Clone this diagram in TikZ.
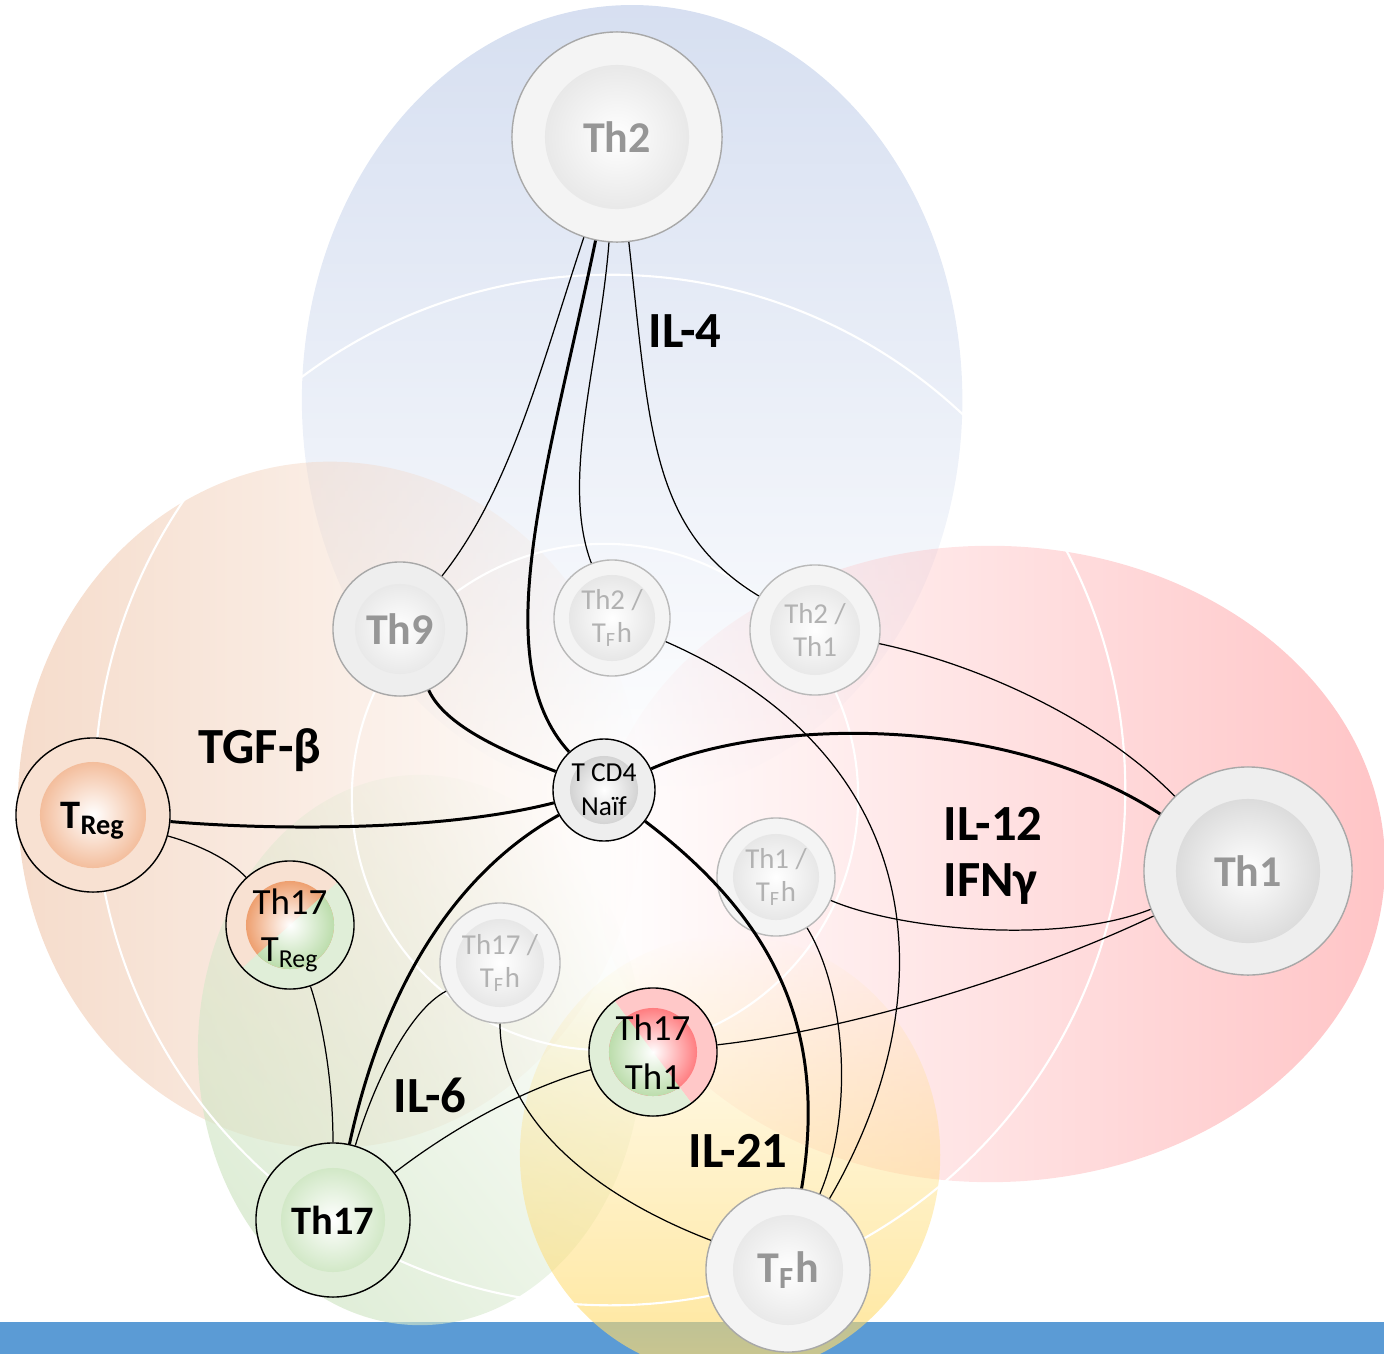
\documentclass[tikz,border=0pt]{standalone}
\usepackage{fontspec}
\setmainfont{Carlito}
\usepackage{tikz}
\usetikzlibrary{fadings}

\definecolor{skyblue}{RGB}{204,215,237}
\definecolor{peach}{RGB}{243,211,190}
\definecolor{rose}{RGB}{255,182,184}
\definecolor{sage}{RGB}{212,231,201}
\definecolor{gold}{RGB}{255,219,110}
\definecolor{barblue}{RGB}{91,155,213}
\definecolor{ringgrey}{RGB}{244,244,244}
\definecolor{ringdark}{RGB}{238,238,238}
\definecolor{rimgrey}{RGB}{168,168,168}
\definecolor{coregrey}{RGB}{222,222,222}
\definecolor{txtgrey}{RGB}{150,150,150}
\definecolor{paletxt}{RGB}{178,178,178}
\definecolor{tregring}{RGB}{248,225,210}
\definecolor{tregcore}{RGB}{238,160,112}
\definecolor{thring}{RGB}{224,238,216}
\definecolor{thcore}{RGB}{188,221,172}
\definecolor{th1ring}{RGB}{255,200,200}
\definecolor{th1core}{RGB}{255,125,128}

\tikzfading[name=fadedown, top color=transparent!0, bottom color=transparent!100]
\tikzfading[name=fadeup, top color=transparent!100, bottom color=transparent!0]
\tikzfading[name=faderight, left color=transparent!0, right color=transparent!100]
\tikzfading[name=fadeleft, left color=transparent!100, right color=transparent!0]

\begin{document}
\begin{tikzpicture}[x=0.01cm, y=-0.01cm,
  every node/.style={circle, draw, inner sep=0pt, align=center},
  cell/.style={fill=ringgrey, draw=rimgrey, text=txtgrey, font=\bfseries\fontsize{12.5}{14}\selectfont},
  pale/.style={fill=ringgrey, draw=rimgrey!80, text=paletxt, font=\fontsize{8.2}{9.4}\selectfont},
  core/.style 2 args={path picture={\shade[inner color=white, outer color=#2] (path picture bounding box.center) circle (#1);}},
  halves/.style n args={5}{path picture={
    \fill[#2] (path picture bounding box.center) ++(#1:1cm) arc[start angle=#1, end angle=#1+180, radius=1cm] -- cycle;
    \fill[#3] (path picture bounding box.center) ++(#1:1cm) arc[start angle=#1, end angle=#1-180, radius=1cm] -- cycle;
    \shade[inner color=white, outer color=#4] (path picture bounding box.center) circle (0.44cm);
    \begin{scope}
      \clip (path picture bounding box.center) ++(#1:1cm) arc[start angle=#1, end angle=#1-180, radius=1cm] -- cycle;
      \shade[inner color=white, outer color=#5] (path picture bounding box.center) circle (0.44cm);
    \end{scope}}},
  cytokine/.style={draw=none, shape=rectangle, font=\bfseries\fontsize{14.4}{16}\selectfont},
  link/.style={line width=0.35pt},
  main/.style={line width=0.85pt},
  ring/.style={white, line width=0.6pt}]

\clip (0,0) rectangle (1384,1354);
\fill[barblue] (0,1322) rectangle (1384,1354);

\fill[skyblue, fill opacity=0.8, path fading=fadedown] (632,400) ellipse [x radius=3.3cm, y radius=3.95cm];
\fill[peach, fill opacity=0.8, path fading=faderight] (330,805) ellipse [x radius=3.12cm, y radius=3.43cm];
\fill[rose, fill opacity=0.8, path fading=fadeleft] (990,864) ellipse [x radius=3.95cm, y radius=3.18cm];
\fill[sage, fill opacity=0.75, path fading=fadeup, fading angle=-45] (420,1050) ellipse [x radius=2.22cm, y radius=2.75cm];
\fill[gold, fill opacity=0.7, path fading=fadeup] (730,1155) ellipse [x radius=2.1cm, y radius=2.2cm];

\draw[ring] (605,797) circle [radius=2.53cm];
\draw[ring] (610,790) circle [radius=5.15cm];

\node[cell, core={0.72cm}{coregrey}, minimum size=2.1cm] (th2) at (617,137) {Th2};
\node[cell, fill=ringdark, core={0.72cm}{coregrey!92!black}, minimum size=2.08cm] (th1) at (1248,871) {Th1};
\node[cell, fill=ringdark, core={0.45cm}{coregrey}, minimum size=1.34cm] (th9) at (400,629) {Th9};
\node[cell, core={0.55cm}{coregrey}, minimum size=1.64cm] (tfh) at (788,1270) {T\textsubscript{F}h};
\node[pale, core={0.43cm}{coregrey}, minimum size=1.16cm] (th2tfh) at (612,618) {Th2 /\\T\textsubscript{F}h};
\node[pale, core={0.45cm}{coregrey}, minimum size=1.3cm] (th2th1) at (815,630) {Th2 /\\Th1};
\node[pale, core={0.43cm}{coregrey}, minimum size=1.18cm] (th1tfh) at (776,877) {Th1 /\\T\textsubscript{F}h};
\node[pale, core={0.44cm}{coregrey}, minimum size=1.2cm] (th17tfh) at (500,963) {Th17 /\\T\textsubscript{F}h};
\node[fill=ringdark, core={0.34cm}{coregrey!85!black}, minimum size=1.02cm, font=\fontsize{7.8}{9.6}\selectfont] (naif) at (604,790) {T CD4\\Naïf};
\node[fill=tregring, core={0.53cm}{tregcore}, minimum size=1.54cm, text depth=0pt, font=\bfseries\fontsize{11.5}{13}\selectfont] (treg) at (93,815) {T\textsubscript{Reg}};
\node[fill=thring, core={0.52cm}{thcore}, minimum size=1.54cm, font=\bfseries\fontsize{11.5}{13}\selectfont] (th17) at (333,1220) {Th17};
\node[halves={42}{tregring}{thring}{tregcore}{thcore}, minimum size=1.28cm, text depth=0pt, font=\fontsize{10.5}{13.5}\selectfont] (th17treg) at (290,925) {Th17\\T\textsubscript{Reg}};
\node[halves={-53}{th1ring}{thring}{th1core}{thcore}, minimum size=1.28cm, font=\fontsize{10.5}{14}\selectfont] (th17th1) at (653,1052) {Th17\\Th1};

\node[cytokine] (il4) at (685,331) {IL-4};
\node[cytokine] (tgf) at (260,750) {TGF-β};
\node[cytokine, align=left] (il12) at (993,856) {IL-12\\IFNγ};
\node[cytokine] (il6) at (430,1095) {IL-6};
\node[cytokine] (il21) at (738,1151) {IL-21};

\draw[link] (th2) .. controls (540,370) and (510,490) .. (th9);
\draw[main] (th2) .. controls (548,470) and (485,660) .. (naif);
\draw[link] (th2) .. controls (600,360) and (560,480) .. (th2tfh);
\draw[link] (th2) .. controls (650,430) and (650,530) .. (th2th1);
\draw[main] (naif) .. controls (500,750) and (445,725) .. (th9);
\draw[main] (naif) .. controls (440,832) and (270,830) .. (treg);
\draw[main] (naif) .. controls (760,720) and (1000,710) .. (th1);
\draw[main] (naif) .. controls (460,870) and (385,980) .. (th17);
\draw[main] (naif) .. controls (775,920) and (828,1030) .. (tfh);
\draw[link] (treg) .. controls (200,845) and (230,860) .. (th17treg);
\draw[link] (th17treg) .. controls (325,1030) and (333,1090) .. (th17);
\draw[link] (th17tfh) .. controls (410,1010) and (375,1080) .. (th17);
\draw[link] (th17tfh) .. controls (500,1110) and (580,1190) .. (tfh);
\draw[link] (th17th1) .. controls (520,1090) and (450,1130) .. (th17);
\draw[link] (th17th1) .. controls (850,1030) and (1030,975) .. (th1);
\draw[link] (th1tfh) .. controls (900,930) and (1060,945) .. (th1);
\draw[link] (th1tfh) .. controls (845,990) and (855,1110) .. (tfh);
\draw[link] (th2tfh) .. controls (935,760) and (945,1000) .. (tfh);
\draw[link] (th2th1) .. controls (980,665) and (1100,720) .. (th1);
\end{tikzpicture}
\end{document}
